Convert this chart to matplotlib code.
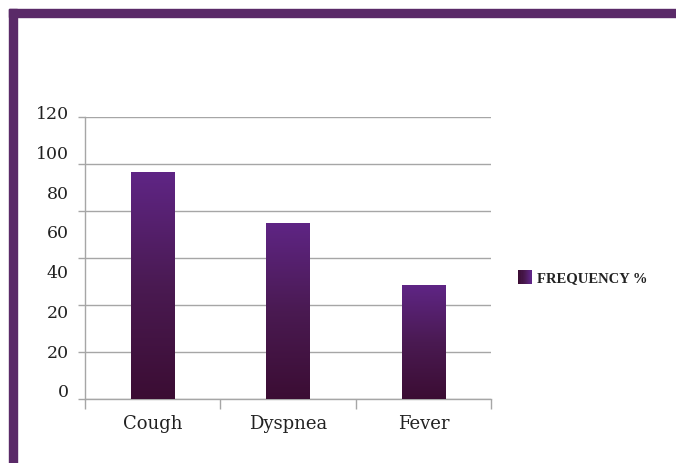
import numpy as np
import matplotlib
matplotlib.use('Agg')
import matplotlib.pyplot as plt
from matplotlib.patches import Rectangle
from matplotlib.legend_handler import HandlerBase
from matplotlib.colors import LinearSegmentedColormap

# Data
categories = ['Cough', 'Dyspnea', 'Fever']
frequency = [96.5, 75, 48.5]
grid_values = [0, 20, 40, 60, 80, 100, 120]
# the original y labels as printed (note the repeated 20)
ytick_labels = ['0', '20', '20', '40', '60', '80', '100', '120']

border = '#5a2a68'
grid_col = '#a6a6a6'
bar_cmap = LinearSegmentedColormap.from_list('bars', ['#3b0d33', '#4a1a52', '#5f2585'])

plt.rcParams['font.family'] = ['DejaVu Serif']

fig = plt.figure(figsize=(6.76, 4.64), dpi=100)

# purple frame on the top and left of the slide
fig.patches.append(Rectangle((9 / 676, 0), 8 / 676, 454 / 464, transform=fig.transFigure,
                             color=border, zorder=0))
fig.patches.append(Rectangle((9 / 676, 446 / 464), 667 / 676, 8 / 464, transform=fig.transFigure,
                             color=border, zorder=0))

ax = fig.add_axes([85 / 676, 64 / 464, 406 / 676, 282 / 464])
x = np.arange(len(categories))
bars = ax.bar(x, frequency, width=0.32, color='none', zorder=3)

# vertical gradient in each bar
grad = np.linspace(0, 1, 256).reshape(-1, 1)
for b in bars:
    x0, y0 = b.get_x(), b.get_y()
    w, h = b.get_width(), b.get_height()
    im = ax.imshow(grad, cmap=bar_cmap, origin='lower', aspect='auto',
                   extent=[x0, x0 + w, y0, y0 + h], zorder=3)
    im.set_clip_path(b)

# gridlines and tick marks at the true values
ax.set_yticks(grid_values)
ax.set_yticklabels([])
ax.yaxis.grid(True, color=grid_col, linewidth=1)
ax.tick_params(axis='y', which='major', length=5, color=grid_col, width=1)

# y labels sit where the original put them (evenly spaced, drifting from the grid)
label_pos = np.linspace(3, 121.5, len(ytick_labels))
for pos, lab in zip(label_pos, ytick_labels):
    ax.text(-0.04, pos, lab, transform=ax.get_yaxis_transform(), ha='right', va='center',
            fontsize=12.5, color='#222222', clip_on=False)

# category separators on the x axis
ax.set_xticks(np.arange(len(categories) + 1) - 0.5)
ax.set_xticklabels([])
ax.tick_params(axis='x', which='major', length=7, color=grid_col, width=1)
ax.set_xticks(x, minor=True)
ax.set_xticklabels(categories, minor=True, fontsize=13, color='#222222')
ax.tick_params(axis='x', which='minor', length=0, pad=11)

ax.set_xlim(-0.5, len(categories) - 0.5)
ax.set_ylim(0, 120)

for s in ['top', 'right']:
    ax.spines[s].set_visible(False)
for s in ['left', 'bottom']:
    ax.spines[s].set_color(grid_col)
    ax.spines[s].set_linewidth(1)
ax.set_axisbelow(True)


class GradientHandler(HandlerBase):
    def create_artists(self, legend, orig_handle, xdescent, ydescent, width, height, fontsize, trans):
        size = height * 1.3
        n = 12
        artists = []
        for i in range(n):
            r = Rectangle((-xdescent + width - size + size * i / n, -ydescent - 0.15 * size),
                          size / n + 0.2, size, color=bar_cmap(i / (n - 1)), lw=0, transform=trans)
            artists.append(r)
        return artists


leg = ax.legend([bars], ['FREQUENCY %'], handler_map={type(bars): GradientHandler()},
                loc='center left', bbox_to_anchor=(511 / 676, 185 / 464),
                bbox_transform=fig.transFigure, frameon=False, handlelength=1.0,
                handletextpad=0.35, borderaxespad=0,
                prop={'family': 'Liberation Serif', 'weight': 'bold', 'size': 10.5})
for t in leg.get_texts():
    t.set_color('#222222')

fig.savefig('out.png', dpi=100)
